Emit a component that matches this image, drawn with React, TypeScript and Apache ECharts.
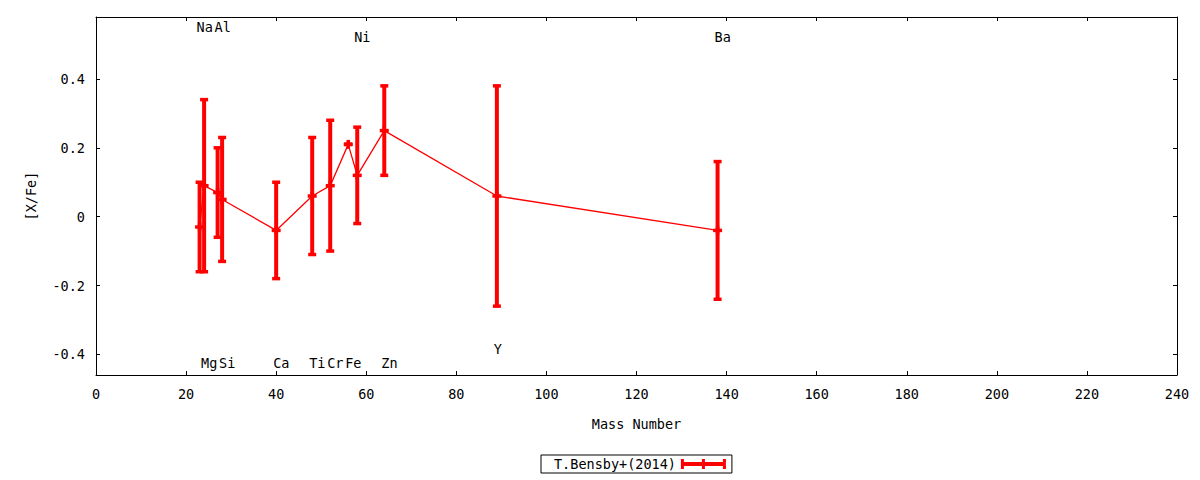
import React, { useEffect, useRef } from "react";
import * as echarts from "echarts";

const elements = ["Na", "Mg", "Al", "Si", "Ca", "Ti", "Cr", "Fe", "Ni", "Zn", "Y", "Ba"];
const massNumbers = [23, 24, 27, 28, 40, 48, 52, 56, 58, 64, 89, 138];
const abundances = [-0.03, 0.09, 0.07, 0.05, -0.04, 0.06, 0.09, 0.21, 0.12, 0.25, 0.06, -0.04];
const errors = [0.13, 0.25, 0.13, 0.18, 0.14, 0.17, 0.19, 0.0, 0.14, 0.13, 0.32, 0.2];
const labelY = [0.552, -0.425, 0.552, -0.425, -0.425, -0.425, -0.425, -0.425, 0.522, -0.425, -0.385, 0.522];
const yTicks = [-0.4, -0.2, 0, 0.2, 0.4];
const seriesName = "T.Bensby+(2014)";

const FONT = "DejaVu Sans Mono";
const FS = 13.5;
const RED = "#ff0000";

export default function App() {
  const ref = useRef<HTMLDivElement>(null);
  useEffect(() => {
    document.body.style.margin = "0";
    const chart = echarts.init(ref.current!, null, { renderer: "svg" });
    const pts = massNumbers.map((m, i) => [m, abundances[i], errors[i]]);
    const labels = massNumbers.map((m, i) => [m, labelY[i], elements[i]]);
    const axisCommon = {
      axisLine: { show: true, onZero: false, lineStyle: { color: "#000", width: 1 } },
      axisTick: { show: true, inside: true, length: 4, lineStyle: { color: "#000" } },
      splitLine: { show: false },
    };
    chart.setOption({
      animation: false,
      grid: { left: 96, right: 23, top: 17, bottom: 105 },
      xAxis: [
        {
          type: "value",
          min: 0,
          max: 240,
          interval: 20,
          name: "Mass Number",
          nameLocation: "middle",
          nameGap: 42,
          nameTextStyle: { fontFamily: FONT, fontSize: FS, color: "#000" },
          ...axisCommon,
          axisLabel: { fontFamily: FONT, fontSize: FS, color: "#000", margin: 12 },
        },
        {
          type: "value",
          position: "top",
          min: 0,
          max: 240,
          interval: 20,
          ...axisCommon,
          axisLabel: { show: false },
        },
      ],
      yAxis: [
        {
          type: "value",
          min: -0.46,
          max: 0.58,
          name: "[X/Fe]",
          nameLocation: "middle",
          nameGap: 58,
          nameTextStyle: { fontFamily: FONT, fontSize: FS, color: "#000" },
          ...axisCommon,
          axisTick: { ...axisCommon.axisTick, customValues: yTicks },
          axisLabel: {
            fontFamily: FONT,
            fontSize: FS,
            color: "#000",
            margin: 11,
            customValues: yTicks,
            formatter: (v: number) => String(Math.round(v * 10) / 10),
          },
        },
        {
          type: "value",
          position: "right",
          min: -0.46,
          max: 0.58,
          ...axisCommon,
          axisTick: { ...axisCommon.axisTick, customValues: yTicks },
          axisLabel: { show: false, customValues: yTicks },
        },
      ],
      legend: {
        data: [
          {
            name: seriesName,
            icon: "path://M0,0h3v10h-3z M0,3h45v4h-45z M42,0h3v10h-3z M21,0h3v10h-3z",
          },
        ],
        left: 541,
        top: 455,
        align: "right",
        itemWidth: 45,
        itemHeight: 10,
        borderColor: "#000",
        borderWidth: 1,
        borderRadius: 0,
        padding: [2, 6, 2, 13],
        selectedMode: false,
        textStyle: { fontFamily: FONT, fontSize: FS, color: "#000" },
        itemStyle: { color: RED },
      },
      series: [
        {
          name: seriesName,
          type: "line",
          data: pts.map((p) => [p[0], p[1]]),
          symbol: "none",
          lineStyle: { color: RED, width: 1.3 },
          itemStyle: { color: RED },
          z: 2,
        },
        {
          name: seriesName,
          type: "custom",
          data: pts,
          itemStyle: { color: RED },
          z: 3,
          renderItem: (_p: any, api: any) => {
            const x = api.value(0);
            const y = api.value(1);
            const e = api.value(2);
            const c = api.coord([x, y]);
            const t = api.coord([x, y + e]);
            const b = api.coord([x, y - e]);
            const st = { fill: RED };
            return {
              type: "group",
              children: [
                { type: "rect", shape: { x: c[0] - 2, y: t[1], width: 4, height: b[1] - t[1] }, style: st },
                { type: "rect", shape: { x: c[0] - 4, y: t[1] - 1.75, width: 8, height: 3.5 }, style: st },
                { type: "rect", shape: { x: c[0] - 4, y: b[1] - 1.75, width: 8, height: 3.5 }, style: st },
                { type: "rect", shape: { x: c[0] - 4.5, y: c[1] - 1.75, width: 9, height: 3.5 }, style: st },
                { type: "rect", shape: { x: c[0] - 1.75, y: c[1] - 4.5, width: 3.5, height: 9 }, style: st },
              ],
            };
          },
        },
        {
          name: "labels",
          type: "custom",
          data: labels,
          z: 4,
          silent: true,
          renderItem: (_p: any, api: any) => {
            const c = api.coord([api.value(0), api.value(1)]);
            return {
              type: "text",
              x: c[0] - 3,
              y: c[1],
              style: {
                text: String(labels[_p.dataIndex][2]),
                fill: "#000",
                font: `${FS}px "${FONT}"`,
                align: "left",
                verticalAlign: "middle",
              },
            };
          },
        },
      ],
    });
    return () => chart.dispose();
  }, []);
  return <div ref={ref} style={{ width: 1200, height: 480 }} />;
}
